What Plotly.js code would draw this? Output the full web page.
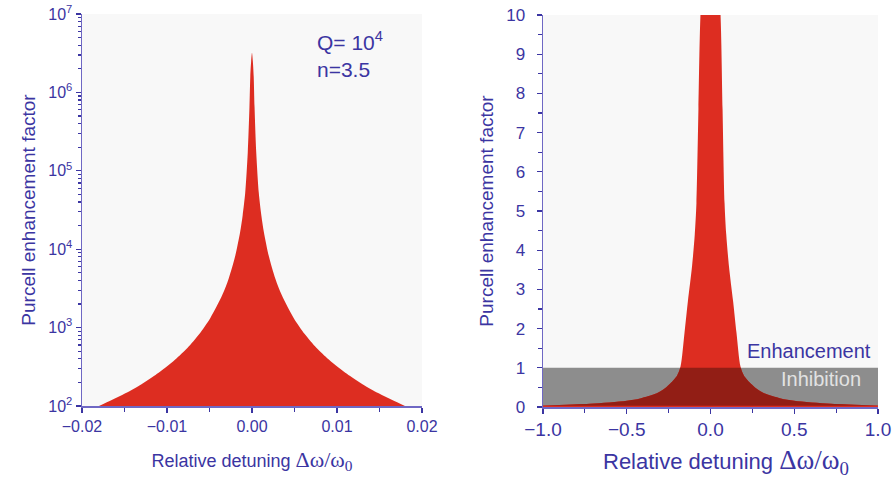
<!DOCTYPE html>
<html>
<head>
<meta charset="utf-8">
<script src="https://cdn.plot.ly/plotly-3.0.1.min.js"></script>
<style>
  html, body { margin: 0; padding: 0; background: #ffffff; }
  #chart { width: 896px; height: 478px; }
</style>
</head>
<body>
<div id="chart"></div>
<script>
// Left panel: Purcell factor against relative detuning, log scale (Q = 1e4, n = 3.5)
const detuneLog = [-0.018, -0.0165, -0.0149, -0.013, -0.0115, -0.0101, -0.009, -0.0076, -0.0062, -0.0049,
                   -0.0035, -0.00275, -0.002, -0.0014, -0.0011, -0.0008, -0.0005, -0.0003, -0.0002, -0.0001,
                   0,
                   0.0001, 0.0002, 0.0003, 0.0005, 0.0008, 0.0011, 0.0014, 0.002, 0.00275, 0.0035,
                   0.0049, 0.0062, 0.0076, 0.009, 0.0101, 0.0115, 0.013, 0.0149, 0.0165, 0.018];
const purcellLog = [100, 119, 145, 190, 243, 315, 395, 550, 830, 1330,
                    2600, 4200, 8000, 16500, 27000, 52000, 170000, 650000, 1600000, 2500000,
                    3200000,
                    2500000, 1600000, 650000, 170000, 52000, 27000, 16500, 8000, 4200, 2600,
                    1330, 830, 550, 395, 315, 243, 190, 145, 119, 100];

// Right panel: the same factor on a linear scale over a wider detuning range
const detuneLin = [-1, -0.72, -0.5, -0.42, -0.32, -0.28, -0.245, -0.2, -0.179, -0.155, -0.135, -0.11,
                   -0.094, -0.084, -0.072, -0.06, 0, 0.06, 0.072, 0.084, 0.094, 0.11, 0.135, 0.155,
                   0.179, 0.2, 0.245, 0.28, 0.32, 0.42, 0.5, 0.72, 1];
const purcellLin = [0.04, 0.08, 0.16, 0.22, 0.35, 0.45, 0.58, 0.8, 1.03, 1.9, 2.7, 3.6,
                    4.4, 5.2, 7.6, 10, 15, 10, 7.6, 5.2, 4.4, 3.6, 2.7, 1.9,
                    1.03, 0.8, 0.58, 0.45, 0.35, 0.22, 0.16, 0.08, 0.04];

// Boundary between enhancement (F > 1) and inhibition (F < 1)
const inhibitionBand = [0.03, 1];

// Axis tick labels
const logTickVals = [1e2, 1e3, 1e4, 1e5, 1e6, 1e7];
const logTickText = ['10<sup>2</sup>', '10<sup>3</sup>', '10<sup>4</sup>',
                     '10<sup>5</sup>', '10<sup>6</sup>', '10<sup>7</sup>'];

const red = '#dd2d21';
const darkRed = '#921e15';
const bandGrey = '#8d8d8d';
const panelBg = '#f8f8f8';
const ink = '#3b35a2';
const axisLine = '#6f68c4';
const W = 896, H = 478;

// vertical extent of the right panel, and the part of it covered by the band
const linDomain = [71 / H, 463 / H];
const linRange = [0, 10];
const frac = v => linDomain[0] + (v - linRange[0]) / (linRange[1] - linRange[0]) * (linDomain[1] - linDomain[0]);
const bandDomain = [frac(inhibitionBand[0]), frac(inhibitionBand[1])];

const xTitle = symSize =>
  'Relative detuning <span style="font-family:\'Liberation Serif\',\'Times New Roman\',serif;font-size:' +
  symSize + 'px">\u0394\u03c9/\u03c9<sub>0</sub></span>';

const peakLine = color => ({width: 0, color: color, shape: 'spline', smoothing: 0.8});

const traces = [
  {type: 'scatter', mode: 'lines', x: detuneLog, y: purcellLog, xaxis: 'x', yaxis: 'y',
   fill: 'toself', fillcolor: red, line: peakLine(red), hoverinfo: 'x+y'},
  {type: 'scatter', mode: 'lines', x: detuneLin, y: purcellLin, xaxis: 'x2', yaxis: 'y2',
   fill: 'tozeroy', fillcolor: red, line: peakLine(red), hoverinfo: 'x+y'},
  // the part of the peak seen through the grey band
  {type: 'scatter', mode: 'lines', x: detuneLin, y: purcellLin, xaxis: 'x2', yaxis: 'y3',
   fill: 'tozeroy', fillcolor: darkRed, line: peakLine(darkRed), hoverinfo: 'skip'}
];

const commonAxis = {
  showgrid: false, zeroline: false,
  showline: true, linecolor: axisLine, linewidth: 1.5,
  ticks: 'outside', ticklen: 5, tickwidth: 1.2, tickcolor: ink,
  tickfont: {color: ink}
};

const layout = {
  width: W, height: H,
  margin: {l: 0, r: 0, t: 0, b: 0},
  paper_bgcolor: '#ffffff',
  plot_bgcolor: 'rgba(0,0,0,0)',
  font: {family: "'Liberation Sans', Arial, sans-serif", color: ink, size: 16},
  showlegend: false,
  xaxis: Object.assign({}, commonAxis, {
    domain: [82 / W, 422 / W], anchor: 'y',
    range: [-0.02, 0.02], tick0: 0, dtick: 0.01, tickformat: '.2f',
    tickfont: {size: 16, color: ink},
    minor: {dtick: 0.005, ticks: 'outside', ticklen: 4, tickcolor: ink},
    title: {text: xTitle(22), font: {size: 18, color: ink}, standoff: 20}
  }),
  yaxis: Object.assign({}, commonAxis, {
    domain: [72 / H, 464 / H], anchor: 'x',
    type: 'log', range: [2, 7],
    tickvals: logTickVals, ticktext: logTickText,
    tickfont: {size: 16, color: ink},
    minor: {dtick: 'D1', ticks: 'outside', ticklen: 3, tickcolor: ink},
    title: {text: 'Purcell enhancement factor', font: {size: 19, color: ink}, standoff: 7}
  }),
  xaxis2: Object.assign({}, commonAxis, {
    domain: [543 / W, 878 / W], anchor: 'y2',
    range: [-1, 1], tick0: 0, dtick: 0.5, tickformat: '.1f',
    tickfont: {size: 19, color: ink},
    minor: {dtick: 0.25, ticks: 'outside', ticklen: 4, tickcolor: ink}
  }),
  yaxis2: Object.assign({}, commonAxis, {
    domain: linDomain, anchor: 'x2',
    range: linRange, tick0: 0, dtick: 1,
    tickfont: {size: 17, color: ink}, ticklabelstandoff: 8,
    minor: {dtick: 0.5, ticks: 'outside', ticklen: 4, tickcolor: ink},
    title: {text: 'Purcell enhancement factor', font: {size: 19, color: ink}, standoff: 7}
  }),
  yaxis3: {
    domain: bandDomain, anchor: 'x2', range: inhibitionBand, visible: false,
    showgrid: false, zeroline: false, fixedrange: true
  },
  shapes: [
    {type: 'rect', xref: 'x domain', yref: 'y domain', layer: 'below',
     x0: 0, x1: 1, y0: 0, y1: 1, fillcolor: panelBg, line: {width: 0}},
    {type: 'rect', xref: 'x2 domain', yref: 'y2 domain', layer: 'below',
     x0: 0, x1: 1, y0: 0, y1: 1, fillcolor: panelBg, line: {width: 0}},
    {type: 'rect', xref: 'x2', yref: 'y2', layer: 'below',
     x0: -1, x1: 1, y0: inhibitionBand[0], y1: inhibitionBand[1],
     fillcolor: bandGrey, line: {width: 0}}
  ],
  annotations: [
    {xref: 'paper', yref: 'paper', x: 315 / W, y: 1 - 41 / H, xanchor: 'left', yanchor: 'middle',
     text: 'Q= 10<sup>4</sup>', showarrow: false, font: {size: 21, color: ink}},
    {xref: 'paper', yref: 'paper', x: 315 / W, y: 1 - 69 / H, xanchor: 'left', yanchor: 'middle',
     text: 'n=3.5', showarrow: false, font: {size: 21, color: ink}},
    {xref: 'x2', yref: 'y2', x: 0.968, y: 1.42, xanchor: 'right', yanchor: 'middle',
     text: 'Enhancement', showarrow: false, font: {size: 20, color: ink}},
    {xref: 'x2', yref: 'y2', x: 0.908, y: 0.72, xanchor: 'right', yanchor: 'middle',
     text: 'Inhibition', showarrow: false, font: {size: 20, color: '#e2e2e2'}},
    // x-axis title of the right panel
    {xref: 'paper', yref: 'paper', x: 726 / W, y: 1 - 462 / H, xanchor: 'center', yanchor: 'middle',
     text: xTitle(27), showarrow: false, font: {size: 22, color: ink}}
  ]
};

Plotly.newPlot('chart', traces, layout, {displayModeBar: false, staticPlot: true});
</script>
</body>
</html>
